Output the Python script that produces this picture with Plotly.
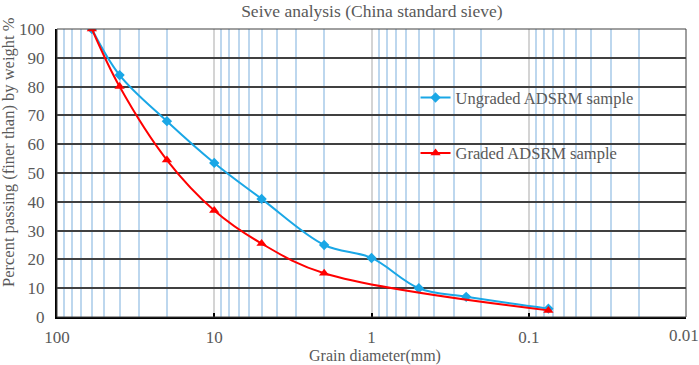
import plotly.graph_objects as go

ungraded_d = [60, 40, 20, 10, 5, 2, 1, 0.5, 0.25, 0.075]
ungraded_p = [100, 84, 68, 53.5, 41, 25, 20.5, 10, 7.0, 2.9]
graded_d = [60, 40, 20, 10, 5, 2, 0.075]
graded_p = [100, 80, 54.5, 37, 25.5, 15.2, 2.3]
x_ticks = [100, 10, 1, 0.1, 0.01]
x_tick_text = ["100", "10", "1", "0.1", ""]
edge_label = "0.01"
x_title = "Grain diameter(mm)"
y_title = "Percent passing (finer than) by weight %"

FONT = "Liberation Serif"
GRAY = "#595959"

fig = go.Figure()
fig.add_trace(go.Scatter(
    x=ungraded_d, y=ungraded_p, mode="lines+markers", name="Ungraded ADSRM sample",
    line=dict(color="#1aa7e6", width=2, shape="spline", smoothing=1.0),
    marker=dict(symbol="diamond", size=8, color="#1aa7e6"),
    legendgroup="a",
))
fig.add_trace(go.Scatter(
    x=graded_d, y=graded_p, mode="lines+markers", name="Graded ADSRM sample",
    line=dict(color="#ff0000", width=2, shape="spline", smoothing=1.0),
    marker=dict(symbol="triangle-up", size=9, color="#ff0000"),
    legendgroup="b",
))

fig.update_layout(
    width=699, height=365,
    margin=dict(l=57, r=13, t=29, b=48, autoexpand=False),
    paper_bgcolor="white", plot_bgcolor="white",
    font=dict(family=FONT, color=GRAY, size=16),
    title=dict(text="Seive analysis (China standard sieve)", x=0.532, xanchor="center",
               y=1 - 11 / 365, yanchor="middle", font=dict(size=17.5, color=GRAY, family=FONT),
               automargin=False),
    showlegend=True,
    legend=dict(x=0.57, y=0.822, xanchor="left", yanchor="top", bgcolor="rgba(0,0,0,0)",
                tracegroupgap=31, font=dict(size=16.5, color=GRAY, family=FONT),
                itemwidth=30),
    xaxis=dict(
        type="log", range=[2, -2], tickvals=x_ticks, ticktext=x_tick_text,
        showgrid=True, gridcolor="#d4d4d4", gridwidth=2,
        minor=dict(showgrid=True, gridcolor="#bdd7ee", gridwidth=1.5, dtick="D1", ticks=""),
        showline=True, linecolor="black", linewidth=2, mirror=False,
        ticks="inside", ticklen=4, tickcolor="black", tickwidth=2,
        ticklabelstandoff=4,
        tickfont=dict(size=17, color=GRAY),
        zeroline=False, automargin=False,
    ),
    yaxis=dict(
        range=[0, 100], dtick=10,
        showgrid=True, gridcolor="#404040", gridwidth=1.5,
        showline=True, linecolor="black", linewidth=2,
        tickfont=dict(size=17, color=GRAY), ticklabelstandoff=7,
        ticks="", zeroline=False, automargin=False,
    ),
)
fig.add_annotation(x=-2, xref="x", y=0, yref="paper", yanchor="top", xanchor="center",
                   yshift=-7, xshift=-2, text=edge_label, showarrow=False,
                   font=dict(size=17, color=GRAY, family=FONT))
fig.add_annotation(x=(374.5 - 57) / 629, xref="paper", y=(317 - 355.5) / 288, yref="paper",
                   xanchor="center", yanchor="middle", text=x_title, showarrow=False,
                   borderpad=0, font=dict(size=16, color=GRAY, family=FONT))
fig.add_annotation(x=(8 - 57) / 629, xref="paper", y=(317 - 152) / 288, yref="paper",
                   xanchor="center", yanchor="middle", text=y_title, showarrow=False,
                   borderpad=0, textangle=-90, font=dict(size=16.5, color=GRAY, family=FONT))
fig.add_shape(type="rect", xref="paper", yref="paper", x0=0, y0=0, x1=1, y1=1,
              line=dict(color="#404040", width=1), layer="above")

fig.write_html("out.html", config={"displayModeBar": False},
               post_script="document.body.style.margin='0';document.body.style.overflow='hidden';")
